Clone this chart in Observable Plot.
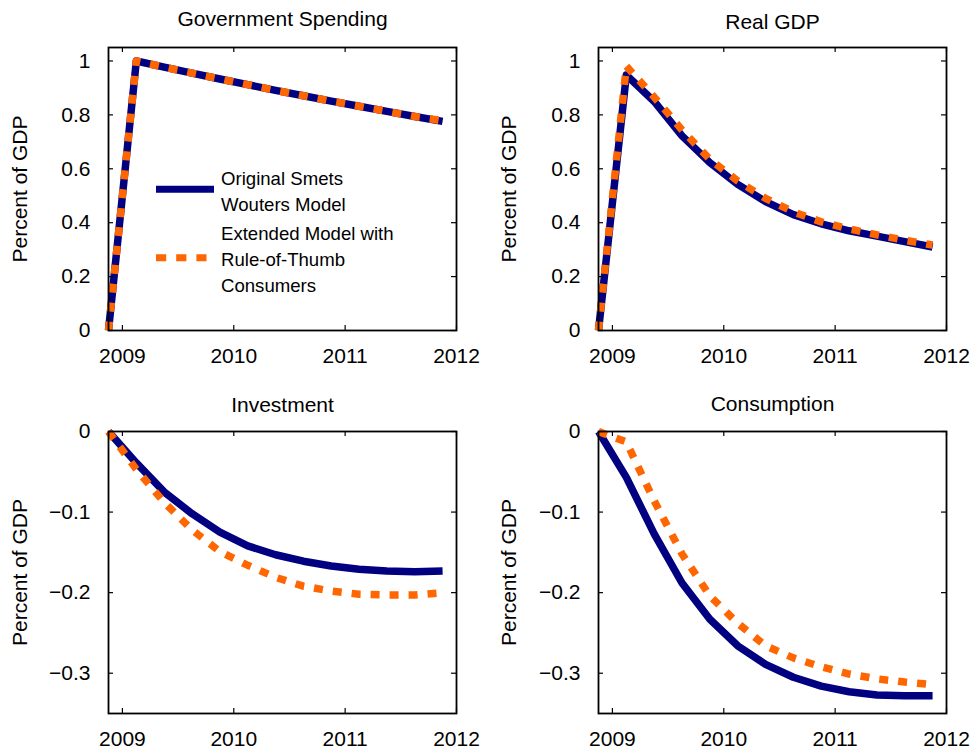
<!DOCTYPE html>
<html>
<head>
<meta charset="utf-8">
<script src="https://cdn.jsdelivr.net/npm/d3@7"></script>
<script src="https://cdn.jsdelivr.net/npm/@observablehq/plot@0.6"></script>
<style>
  body { margin: 0; background: #fff; }
  #chart { position: relative; width: 973px; height: 749px; background: #fff; }
  #chart > .panel { position: absolute; }
</style>
</head>
<body>
<div id="chart"></div>
<script>
// ---------- data ----------
const quarters = [2008.875, 2009.125, 2009.375, 2009.625, 2009.875, 2010.125, 2010.375, 2010.625, 2010.875, 2011.125, 2011.375, 2011.625, 2011.875];

const panelTitles = ["Government Spending", "Real GDP", "Investment", "Consumption"];
const yAxisLabel = "Percent of GDP";

const govOriginal = [0, 1.0, 0.977, 0.955, 0.933, 0.912, 0.891, 0.871, 0.851, 0.832, 0.813, 0.794, 0.776];
const govExtended = [0, 1.0, 0.977, 0.955, 0.933, 0.912, 0.891, 0.871, 0.851, 0.832, 0.813, 0.794, 0.778];

const gdpOriginal = [0, 0.948, 0.850, 0.722, 0.623, 0.542, 0.478, 0.430, 0.396, 0.370, 0.350, 0.330, 0.310];
const gdpExtended = [0, 0.981, 0.866, 0.744, 0.635, 0.555, 0.490, 0.440, 0.403, 0.377, 0.355, 0.335, 0.317];

const invOriginal = [0, -0.039, -0.075, -0.102, -0.125, -0.142, -0.153, -0.161, -0.167, -0.171, -0.173, -0.174, -0.173];
const invExtended = [0, -0.047, -0.088, -0.122, -0.149, -0.166, -0.181, -0.192, -0.198, -0.202, -0.203, -0.203, -0.200];

const conOriginal = [0, -0.057, -0.127, -0.188, -0.233, -0.266, -0.289, -0.305, -0.316, -0.323, -0.327, -0.328, -0.328];
const conExtended = [0, -0.013, -0.086, -0.152, -0.204, -0.238, -0.266, -0.281, -0.292, -0.301, -0.307, -0.311, -0.314];

const xTicks = [2009, 2010, 2011, 2012];
const xTickLabels = ["2009", "2010", "2011", "2012"];
const yTicksTop = [0, 0.2, 0.4, 0.6, 0.8, 1];
const yTickLabelsTop = ["0", "0.2", "0.4", "0.6", "0.8", "1"];
const yTicksBottom = [0, -0.1, -0.2, -0.3];
const yTickLabelsBottom = ["0", "\u22120.1", "\u22120.2", "\u22120.3"];

const legendLines = [["Original Smets", "Wouters Model"], ["Extended Model with", "Rule-of-Thumb", "Consumers"]];

// ---------- style ----------
const NAVY = "#000080";
const ORANGE = "#ff6600";
const FONT = "'Liberation Sans', Arial, Helvetica, sans-serif";

function rows(values) {
  return quarters.map((q, i) => ({ date: q, value: values[i] }));
}

function panel(cfg) {
  const { title, orig, ext, yDomain, yTicks, yLabels, left, top, width, height, mT, mB, mL, mR, titleDy, labelDx } = cfg;
  const innerW = width - mL - mR;
  const innerH = height - mT - mB;
  const fmtX = d => xTickLabels[xTicks.indexOf(d)];
  const fmtY = d => yLabels[yTicks.indexOf(d)];
  const svg = Plot.plot({
    width, height,
    marginTop: mT, marginBottom: mB, marginLeft: mL, marginRight: mR,
    x: { domain: [2008.875, 2012] },
    y: { domain: yDomain },
    style: { fontFamily: FONT, fontSize: "21px", color: "#000", background: "transparent", overflow: "visible" },
    marks: [
      Plot.line(rows(orig), { x: "date", y: "value", stroke: NAVY, strokeWidth: 7.5, strokeLinejoin: "round", strokeLinecap: "butt" }),
      Plot.line(rows(ext), { x: "date", y: "value", stroke: ORANGE, strokeWidth: 7.5, strokeDasharray: "9,10", strokeLinejoin: "round", strokeLinecap: "butt" }),
      Plot.ruleY(yTicks, { stroke: "#000", strokeWidth: 1.2, insetRight: innerW - 5 }),
      Plot.ruleY(yTicks, { stroke: "#000", strokeWidth: 1.2, insetLeft: innerW - 5 }),
      Plot.ruleX(xTicks, { stroke: "#000", strokeWidth: 1.2, insetBottom: innerH - 5 }),
      Plot.ruleX(xTicks, { stroke: "#000", strokeWidth: 1.2, insetTop: innerH - 5 }),
      Plot.frame({ stroke: "#000", strokeWidth: 1.8 }),
      Plot.axisX(xTicks, { tickSize: 0, tickPadding: 18, tickFormat: fmtX, label: null, fill: "#000" }),
      Plot.axisY(yTicks, { tickSize: 0, tickPadding: 18, tickFormat: fmtY, label: null, fill: "#000" }),
      Plot.text([title], { frameAnchor: "top", lineAnchor: "bottom", dy: titleDy, fill: "#000" }),
      Plot.text([yAxisLabel], { frameAnchor: "left", rotate: -90, dx: labelDx, textAnchor: "middle", lineAnchor: "middle", fill: "#000" })
    ]
  });
  const div = document.createElement("div");
  div.className = "panel";
  div.style.left = left + "px";
  div.style.top = top + "px";
  div.style.width = width + "px";
  div.style.height = height + "px";
  div.appendChild(svg);
  document.getElementById("chart").appendChild(div);
  return svg;
}

const top1 = { top: 0, width: 483, height: 375, mT: 47, mB: 45, mL: 108, mR: 27, yDomain: [0, 1.05], yTicks: yTicksTop, yLabels: yTickLabelsTop };
const bot1 = { top: 380, width: 483, height: 369, mT: 51, mB: 36, mL: 108, mR: 27, yDomain: [-0.35, 0], yTicks: yTicksBottom, yLabels: yTickLabelsBottom };

const svgGov = panel({ ...top1, left: 0, title: panelTitles[0], orig: govOriginal, ext: govExtended, titleDy: -21.5, labelDx: -88 });
panel({ ...top1, left: 490, title: panelTitles[1], orig: gdpOriginal, ext: gdpExtended, titleDy: -18.7, labelDx: -89 });
panel({ ...bot1, left: 0, title: panelTitles[2], orig: invOriginal, ext: invExtended, titleDy: -19.3, labelDx: -88 });
panel({ ...bot1, left: 490, title: panelTitles[3], orig: conOriginal, ext: conExtended, titleDy: -21, labelDx: -89 });

// ---------- legend (inside Government Spending panel) ----------
const lg = d3.select(svgGov).append("g")
  .attr("font-family", FONT).attr("font-size", 18.6).attr("fill", "#000")
  .attr("text-anchor", "start").style("text-anchor", "start");
lg.append("line").attr("x1", 156).attr("x2", 214).attr("y1", 189.3).attr("y2", 189.3)
  .attr("stroke", NAVY).attr("stroke-width", 7);
lg.append("line").attr("x1", 156).attr("x2", 206.5).attr("y1", 257.7).attr("y2", 257.7)
  .attr("stroke", ORANGE).attr("stroke-width", 7).attr("stroke-dasharray", "10.2,10");
const baselines = [185, 210.7, 240, 266, 291.7];
legendLines.flat().forEach((t, i) => {
  lg.append("text").attr("x", 221).attr("y", baselines[i]).attr("text-anchor", "start").text(t);
});
</script>
</body>
</html>
